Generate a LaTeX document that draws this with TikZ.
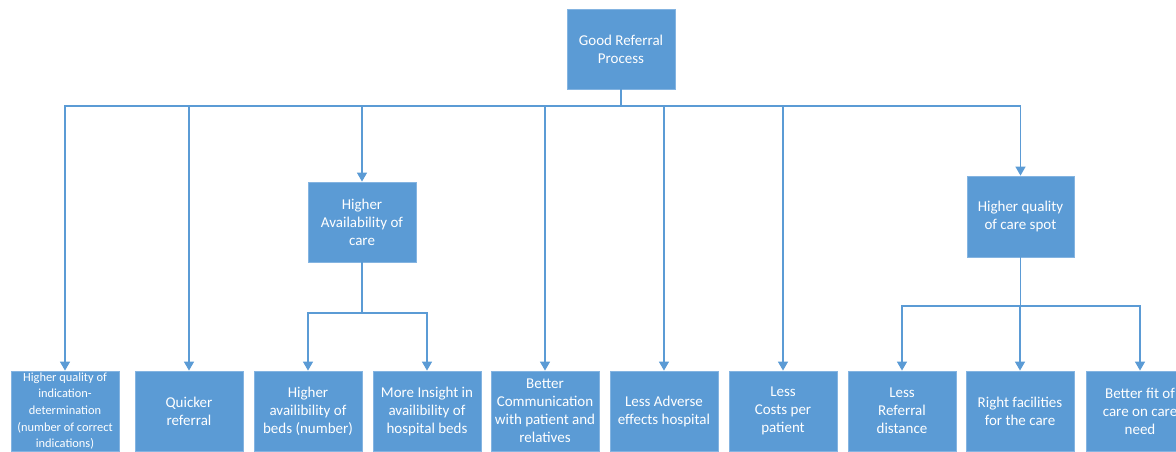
\documentclass[tikz,border=0pt]{standalone}
\usepackage{fontspec}
\setmainfont{Carlito}
\usepackage{xcolor}
\usetikzlibrary{arrows.meta,positioning}
\definecolor{cajaazul}{HTML}{5B9BD5}
\definecolor{bordeazul}{HTML}{84B4E1}
\tikzset{
  caja/.style     = {rectangle, draw=bordeazul, line width=0.8pt, fill=cajaazul,
                     text=white, align=center, font=\fontsize{15}{18}\selectfont,
                     minimum width=108pt, minimum height=80pt, inner sep=0pt},
  cajachica/.style = {caja, font=\fontsize{12.4}{16.6}\selectfont},
  conector/.style = {draw=cajaazul, line width=1.4pt},
  flecha/.style   = {conector, -{Triangle[width=10pt,length=9pt]}},
}
\begin{document}
\begin{tikzpicture}[x=1pt,y=1pt]
    \useasboundingbox (0,0) rectangle (1176,-452);
    % --- raiz
    \node[caja] (raiz) at (621,-49) {Good Referral\\Process};

    % --- nivel medio
    \node[caja] (dispon) at (362,-222) {Higher\\Availability of\\care};
    \node[caja, minimum width=107pt, minimum height=81pt] (calidad) at (1020.5,-216.5)
      {Higher quality\\of care spot};

    % --- hojas
    \node[cajachica] (indic) at (65,-411) {Higher quality of\\indication-\\determination\\(number of correct\\indications)};
    \node[caja] (rapida) at (189,-411) {Quicker\\referral};
    \node[caja] (camas) at (308,-411) {Higher\\availibility of\\beds (number)};
    \node[caja] (vision) at (427,-411) {More Insight in\\availibility of\\hospital beds};
    \node[caja] (comun) at (545,-411) {Better\\Communication\\with patient and\\relatives};
    \node[caja] (adverso) at (664,-411) {Less Adverse\\effects hospital};
    \node[caja] (costos) at (783,-411) {Less\\Costs per\\patient};
    \node[caja] (distan) at (902,-411) {Less\\Referral\\distance};
    \node[caja] (instal) at (1020,-411) {Right facilities\\for the care};
    \node[caja] (ajuste) at (1140,-411) {Better fit of\\care on care\\need};

    % --- barras
    \coordinate (bus) at (621,-106);
    \coordinate (busa) at (362,-313);
    \coordinate (busb) at (1020.5,-306);

    % --- flechas
    \foreach \hijo in {indic,rapida,dispon,comun,adverso,costos,calidad}
      \draw[flecha] (raiz.south) -- (bus) -| (\hijo.north);
    \foreach \hijo in {camas,vision}
      \draw[flecha] (dispon.south) -- (busa) -| (\hijo.north);
    \foreach \hijo in {distan,instal,ajuste}
      \draw[flecha] (calidad.south) -- (busb) -| (\hijo.north);
\end{tikzpicture}
\end{document}
